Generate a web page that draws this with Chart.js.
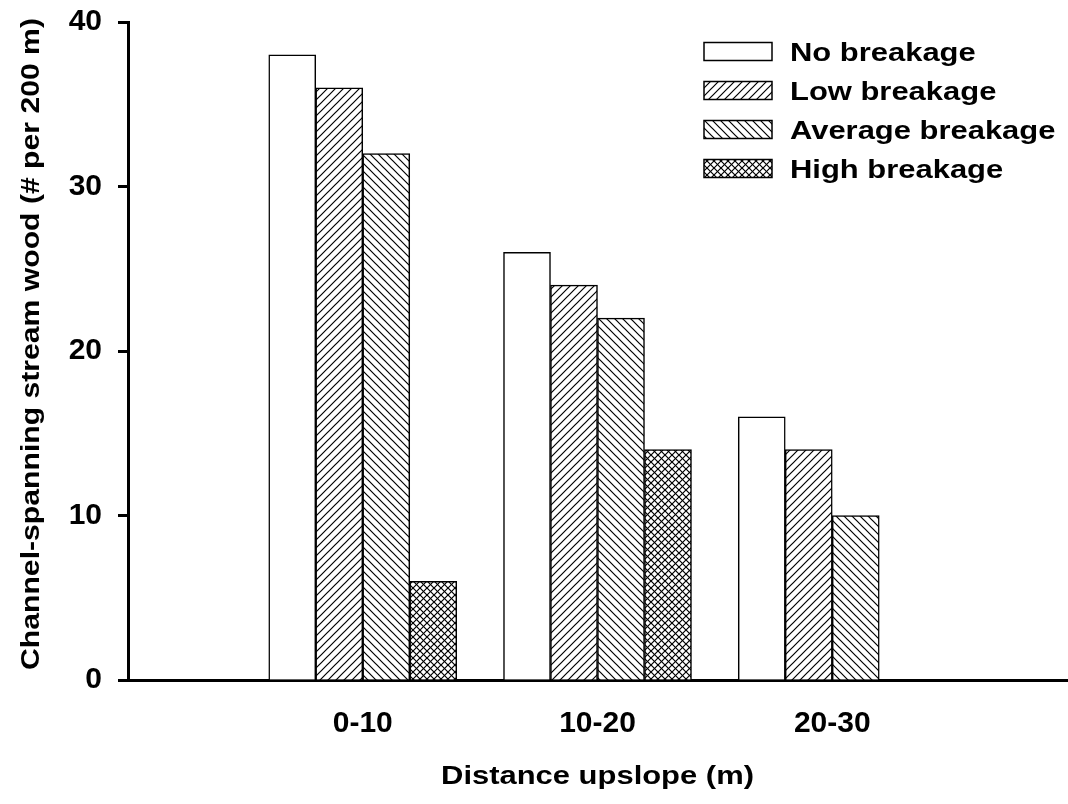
<!DOCTYPE html>
<html>
<head>
<meta charset="utf-8">
<script src="https://cdn.jsdelivr.net/npm/chart.js@4.4.1/dist/chart.umd.min.js"></script>
<style>
  html, body { margin: 0; padding: 0; background: #ffffff; }
  #wrap { width: 1068px; height: 804px; }
</style>
</head>
<body>
<div id="wrap"><canvas id="wood-chart" width="1068" height="804"></canvas></div>
<script>
// data
const categories = ['0-10', '10-20', '20-30'];
const seriesNames = ['No breakage', 'Low breakage', 'Average breakage', 'High breakage'];
const noBreakage = [38, 26, 16];
const lowBreakage = [36, 24, 14];
const averageBreakage = [32, 22, 10];
const highBreakage = [6, 14, null];
const yTicks = [0, 10, 20, 30, 40];

const FONT = '"Liberation Sans", Arial, sans-serif';

// hatch patterns for the bar fills
function makePattern(kind) {
  const s = kind === 'cross' ? 7 : 8;
  const c = document.createElement('canvas');
  c.width = s;
  c.height = s;
  const g = c.getContext('2d');
  g.fillStyle = '#ffffff';
  g.fillRect(0, 0, s, s);
  if (kind === 'none') return g.createPattern(c, 'repeat');
  g.strokeStyle = '#000000';
  g.lineWidth = 1.2;
  const fwd = () => {
    g.beginPath();
    g.moveTo(-1, s + 1); g.lineTo(s + 1, -1);
    g.moveTo(-1, 1); g.lineTo(1, -1);
    g.moveTo(s - 1, s + 1); g.lineTo(s + 1, s - 1);
    g.stroke();
  };
  const back = () => {
    g.beginPath();
    g.moveTo(-1, -1); g.lineTo(s + 1, s + 1);
    g.moveTo(s - 1, -1); g.lineTo(s + 1, 1);
    g.moveTo(-1, s - 1); g.lineTo(1, s + 1);
    g.stroke();
  };
  if (kind === 'fwd' || kind === 'cross') fwd();
  if (kind === 'back' || kind === 'cross') back();
  return g.createPattern(c, 'repeat');
}

const fills = [makePattern('none'), makePattern('fwd'), makePattern('back'), makePattern('cross')];
const allSeries = [noBreakage, lowBreakage, averageBreakage, highBreakage];

// text slightly widened like the original figure
function wideText(ctx, text, x, y, size, sx, rot) {
  ctx.save();
  ctx.translate(x, y);
  if (rot) ctx.rotate(rot);
  ctx.scale(sx, 1);
  ctx.font = 'bold ' + size + 'px ' + FONT;
  ctx.fillStyle = '#000000';
  ctx.fillText(text, 0, 0);
  ctx.restore();
}

// legend + axis titles
const decorPlugin = {
  id: 'decor',
  afterDraw(chart) {
    const ctx = chart.ctx;
    const area = chart.chartArea;

    // legend, top right
    seriesNames.forEach((name, i) => {
      const cy = 51.5 + i * 39;
      ctx.save();
      ctx.fillStyle = fills[i];
      ctx.fillRect(704, cy - 9, 68, 18);
      ctx.strokeStyle = '#000000';
      ctx.lineWidth = 1.5;
      ctx.strokeRect(704, cy - 9, 68, 18);
      ctx.restore();
      ctx.save();
      ctx.textBaseline = 'alphabetic';
      wideText(ctx, name, 790, cy + 9, 26, 1.19, 0);
      ctx.restore();
    });

    // x title
    ctx.save();
    ctx.textAlign = 'center';
    ctx.textBaseline = 'alphabetic';
    wideText(ctx, 'Distance upslope (m)', (area.left + area.right) / 2, 784, 26, 1.19, 0);
    ctx.restore();

    // y title
    ctx.save();
    ctx.textAlign = 'center';
    ctx.textBaseline = 'alphabetic';
    wideText(ctx, 'Channel-spanning stream wood (# per 200 m)', 39, 344, 26, 1.16, -Math.PI / 2);
    ctx.restore();
  }
};

const datasets = seriesNames.map((name, i) => ({
  label: name,
  data: allSeries[i].map((v, j) => ({ x: j + 1, y: v })),
  backgroundColor: fills[i],
  borderColor: '#000000',
  borderWidth: 1.5,
  barThickness: 47
}));

const ctx = document.getElementById('wood-chart').getContext('2d');
new Chart(ctx, {
  type: 'bar',
  data: { datasets: datasets },
  plugins: [decorPlugin],
  options: {
    responsive: false,
    animation: false,
    layout: { padding: { top: 22, right: 1, left: 0, bottom: 0 } },
    plugins: {
      legend: { display: false },
      tooltip: { enabled: false }
    },
    scales: {
      x: {
        type: 'linear',
        min: 0,
        max: 4,
        offset: false,
        z: 1,
        grid: { display: false, drawTicks: false },
        border: { display: true, color: '#000000', width: 3 },
        afterBuildTicks: (scale) => {
          scale.ticks = categories.map((c, i) => ({ value: i + 1 }));
        },
        afterFit: (scale) => {
          scale.height = 124;
          scale.paddingLeft = 0;
          scale.paddingRight = 0;
        },
        ticks: {
          padding: 26,
          color: '#000000',
          font: { family: FONT, size: 30, weight: 'bold' },
          callback: (v) => categories[v - 1] || ''
        }
      },
      y: {
        min: 0,
        max: 40,
        z: 1,
        afterBuildTicks: (scale) => {
          scale.ticks = yTicks.map(v => ({ value: v }));
        },
        afterFit: (scale) => {
          scale.width = 128;
          scale.paddingTop = 0;
          scale.paddingBottom = 0;
        },
        grid: {
          drawOnChartArea: false,
          drawTicks: true,
          tickLength: 10,
          tickWidth: 3,
          tickColor: '#000000'
        },
        border: { display: true, color: '#000000', width: 3 },
        ticks: {
          padding: 16,
          color: '#000000',
          font: { family: FONT, size: 30, weight: 'bold' }
        }
      }
    }
  }
});
</script>
</body>
</html>
